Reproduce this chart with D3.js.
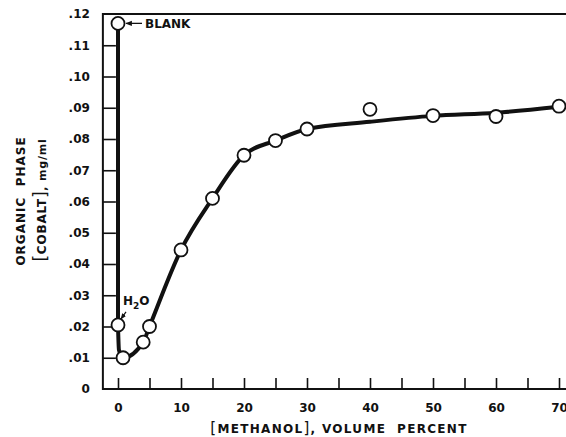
<!DOCTYPE html>
<html>
<head>
<meta charset="utf-8">
<script src="https://cdn.jsdelivr.net/npm/d3@7"></script>
<style>
  body { margin: 0; background: #fff; }
  svg { display: block; }
  text { font-family: "DejaVu Sans", sans-serif; fill: #111; }
</style>
</head>
<body>
<div id="chart"></div>
<script>
// Measured points (methanol volume %, cobalt mg/ml)
const methanol = [0, 0, 0.8, 4, 5, 10, 15, 20, 25, 30, 40, 50, 60, 70];
const cobalt = [0.117, 0.0205, 0.010, 0.015, 0.020, 0.0445, 0.061, 0.0748, 0.0795, 0.0832, 0.0895, 0.0875, 0.0872, 0.0905];

// Hand-drawn fit curve through the points
const curveX = [0, 0.15, 0.8, 4, 5, 10, 15, 20, 25, 30, 40, 50, 60, 70];
const curveY = [0.0205, 0.0125, 0.010, 0.015, 0.020, 0.0445, 0.061, 0.0748, 0.0795, 0.0832, 0.0855, 0.0874, 0.0884, 0.0903];
const blankDrop = [[0, 0.117], [0, 0.0205]];

const xTicks = [0, 5, 10, 15, 20, 25, 30, 35, 40, 45, 50, 55, 60, 65, 70];
const xLabels = [0, 10, 20, 30, 40, 50, 60, 70];
const yTicks = [0, 0.01, 0.02, 0.03, 0.04, 0.05, 0.06, 0.07, 0.08, 0.09, 0.10, 0.11, 0.12];

const width = 566, height = 437;

const svg = d3.select("#chart").append("svg")
    .attr("width", width)
    .attr("height", height);

const x = d3.scaleLinear().domain([0, 70]).range([118, 559]);
const y = d3.scaleLinear().domain([0, 0.12]).range([389, 14]);

const frameL = x(-2.4), frameR = x(72), frameT = y(0.12), frameB = y(0);

// frame (top, left, bottom)
svg.append("path")
    .attr("d", `M${frameR},${frameT}H${frameL}V${frameB}H${frameR}`)
    .style("fill", "none")
    .style("stroke", "#111")
    .style("stroke-width", 2);

// x axis, ticks pointing up into the plot
const xAxis = d3.axisBottom(x)
    .tickValues(xTicks)
    .tickSizeInner(-11)
    .tickSizeOuter(0)
    .tickPadding(14)
    .tickFormat(d => xLabels.includes(d) ? d : "");
const gx = svg.append("g")
    .attr("transform", `translate(0,${frameB})`)
    .call(xAxis);
gx.select(".domain").remove();
gx.selectAll("line").style("stroke", "#111").style("stroke-width", 1.6);
gx.selectAll("text").style("font-size", "12px").style("font-weight", "bold").style("font-family", "DejaVu Sans");

// y axis, ticks pointing right into the plot
const yAxis = d3.axisLeft(y)
    .tickValues(yTicks)
    .tickSizeInner(-13)
    .tickSizeOuter(0)
    .tickPadding(13)
    .tickFormat(d => d === 0 ? "0" : d3.format(".2f")(d).replace(/^0/, ""));
const gy = svg.append("g")
    .attr("transform", `translate(${frameL},0)`)
    .call(yAxis);
gy.select(".domain").remove();
gy.selectAll("line")
    .style("stroke", "#111").style("stroke-width", 1.6)
    .style("display", d => (d === 0 || d === 0.12) ? "none" : null);
gy.selectAll("text").style("font-size", "12px").style("font-weight", "bold").style("font-family", "DejaVu Sans");

// fitted curve
const line = d3.line()
    .x(d => x(d[0]))
    .y(d => y(d[1]));

svg.append("path")
    .datum(blankDrop)
    .attr("d", line)
    .style("fill", "none")
    .style("stroke", "#111")
    .style("stroke-width", 4);

svg.append("path")
    .datum(curveX.map((v, i) => [v, curveY[i]]))
    .attr("d", line.curve(d3.curveMonotoneX))
    .style("fill", "none")
    .style("stroke", "#111")
    .style("stroke-width", 4);

// data circles
svg.selectAll(".pt")
    .data(methanol.map((v, i) => [v, cobalt[i]]))
    .enter().append("circle")
    .attr("class", "pt")
    .attr("cx", d => x(d[0]))
    .attr("cy", d => y(d[1]))
    .attr("r", 6.5)
    .style("fill", "#fff")
    .style("stroke", "#111")
    .style("stroke-width", 1.8);

// annotations
svg.append("defs").append("marker")
    .attr("id", "arr")
    .attr("viewBox", "0 0 10 10")
    .attr("refX", 9).attr("refY", 5)
    .attr("markerWidth", 5).attr("markerHeight", 5)
    .attr("orient", "auto")
    .append("path").attr("d", "M0,1L10,5L0,9Z").style("fill", "#111");

svg.append("line")
    .attr("x1", x(0) + 24).attr("y1", y(0.117))
    .attr("x2", x(0) + 8).attr("y2", y(0.117))
    .style("stroke", "#111").style("stroke-width", 1.3)
    .attr("marker-end", "url(#arr)");
svg.append("text")
    .attr("x", x(0) + 27).attr("y", y(0.117) + 5)
    .style("font-size", "12px").style("font-weight", "bold")
    .text("BLANK");

svg.append("line")
    .attr("x1", x(0) + 8).attr("y1", y(0.0205) - 13)
    .attr("x2", x(0) + 3).attr("y2", y(0.0205) - 6)
    .style("stroke", "#111").style("stroke-width", 1.2)
    .attr("marker-end", "url(#arr)");
const h2o = svg.append("text")
    .attr("x", x(0) + 5).attr("y", y(0.0205) - 20)
    .style("font-size", "12px").style("font-weight", "bold");
h2o.append("tspan").text("H");
h2o.append("tspan").attr("dy", 4).style("font-size", "9px").text("2");
h2o.append("tspan").attr("dy", -4).text("O");

// axis titles
const xt = svg.append("text")
    .attr("x", 339).attr("y", 433)
    .attr("text-anchor", "middle")
    .style("font-size", "12px").style("font-weight", "bold")
    .style("letter-spacing", "1.3px");
xt.append("tspan").style("font-size", "15px").style("font-weight", "normal").text("[");
xt.append("tspan").text("METHANOL");
xt.append("tspan").style("font-size", "15px").style("font-weight", "normal").text("]");
xt.append("tspan").attr("xml:space", "preserve").text(", VOLUME  PERCENT");

svg.append("text")
    .attr("transform", "translate(25,201) rotate(-90)")
    .attr("text-anchor", "middle")
    .style("font-size", "12px").style("font-weight", "bold")
    .style("letter-spacing", "1px")
    .attr("xml:space", "preserve")
    .text("ORGANIC  PHASE");

const yt = svg.append("text")
    .attr("transform", "translate(46,200) rotate(-90)")
    .attr("text-anchor", "middle")
    .style("font-size", "12px").style("font-weight", "bold")
    .style("letter-spacing", "0.8px");
yt.append("tspan").style("font-size", "17px").style("font-weight", "normal").text("[");
yt.append("tspan").text("COBALT");
yt.append("tspan").style("font-size", "17px").style("font-weight", "normal").text("]");
yt.append("tspan").style("font-size", "11px").attr("xml:space", "preserve").text(", mg/ml");
</script>
</body>
</html>
